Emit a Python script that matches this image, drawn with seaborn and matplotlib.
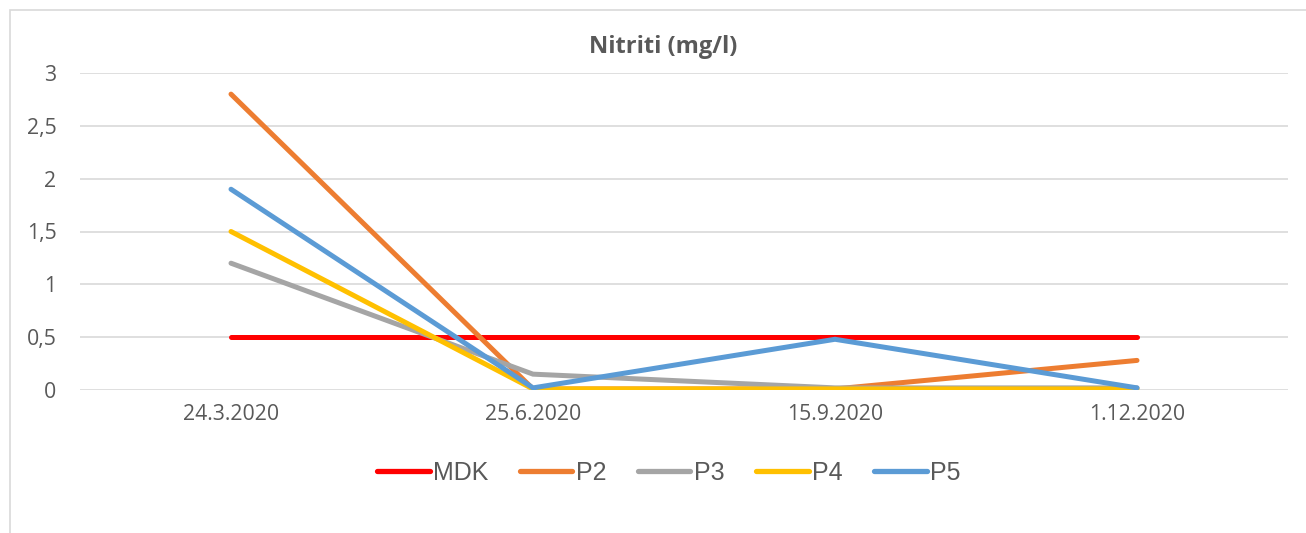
import matplotlib
matplotlib.use("Agg")
import matplotlib.pyplot as plt
import seaborn as sns
import pandas as pd
from matplotlib.patches import Rectangle

dates = ["24.3.2020", "25.6.2020", "15.9.2020", "1.12.2020"]
series_names = ["MDK", "P2", "P3", "P4", "P5"]
mdk = [0.5, 0.5, 0.5, 0.5]
p2 = [2.8, 0.01, 0.01, 0.28]
p3 = [1.2, 0.15, 0.02, 0.02]
p4 = [1.5, 0.01, 0.01, 0.01]
p5 = [1.9, 0.02, 0.48, 0.02]
colors = ["#FF0000", "#ED7D31", "#A5A5A5", "#FFC000", "#5B9BD5"]
yticks = [0, 0.5, 1, 1.5, 2, 2.5, 3]
ytick_labels = ["0", "0,5", "1", "1,5", "2", "2,5", "3"]

rows = []
for name, vals in zip(series_names, [mdk, p2, p3, p4, p5]):
    for d, v in zip(dates, vals):
        rows.append({"Datum": d, "Vrijednost": v, "Serija": name})
df = pd.DataFrame(rows)

sns.set_theme(style="white")
plt.rcParams["font.family"] = ["Open Sans", "DejaVu Sans"]

fig = plt.figure(figsize=(13.06, 5.33), dpi=100)
ax = fig.add_axes([80 / 1306, 1 - 390 / 533, (1288 - 80) / 1306, (390 - 73) / 533])

sns.lineplot(data=df, x="Datum", y="Vrijednost", hue="Serija", hue_order=series_names,
             palette=colors, linewidth=3.6, ax=ax, sort=False,
             solid_capstyle="round", solid_joinstyle="miter", legend=True)

ax.set_xlim(-0.5, 3.5)
ax.set_ylim(0, 3)
ax.set_yticks(yticks)
ax.set_yticklabels(ytick_labels)
ax.yaxis.grid(True, color="#D9D9D9", linewidth=1.2)
ax.set_axisbelow(True)
for s in ax.spines.values():
    s.set_visible(False)
ax.tick_params(axis="both", length=0, labelsize=15.3, labelcolor="#595959")
ax.tick_params(axis="x", pad=10)
ax.tick_params(axis="y", pad=17)
ax.set_xlabel("")
ax.set_ylabel("")

fig.text(663 / 1306, 1 - 47 / 533, "Nitriti (mg/l)", fontsize=17, fontweight="bold",
         color="#595959", ha="center", va="center")

handles, labels = ax.get_legend_handles_labels()
for h in handles:
    h.set_linewidth(3.8)
    h.set_solid_capstyle("round")
leg = ax.legend(handles, labels, loc="center", bbox_to_anchor=(669 / 1306, 1 - 473 / 533),
                bbox_transform=fig.transFigure, ncol=5, frameon=False, fontsize=18,
                handlelength=2.1, handletextpad=0.15, columnspacing=1.25,
                labelcolor="#595959", borderpad=0)
for t in leg.get_texts():
    t.set_family(["Liberation Sans", "DejaVu Sans"])

fig.patches.append(Rectangle((10 / 1306, -0.1), 1.2, 1 - 10 / 533 + 0.1,
                             transform=fig.transFigure, fill=False,
                             edgecolor="#D9D9D9", linewidth=1.2))

fig.savefig("out.png", dpi=100, facecolor="white")
